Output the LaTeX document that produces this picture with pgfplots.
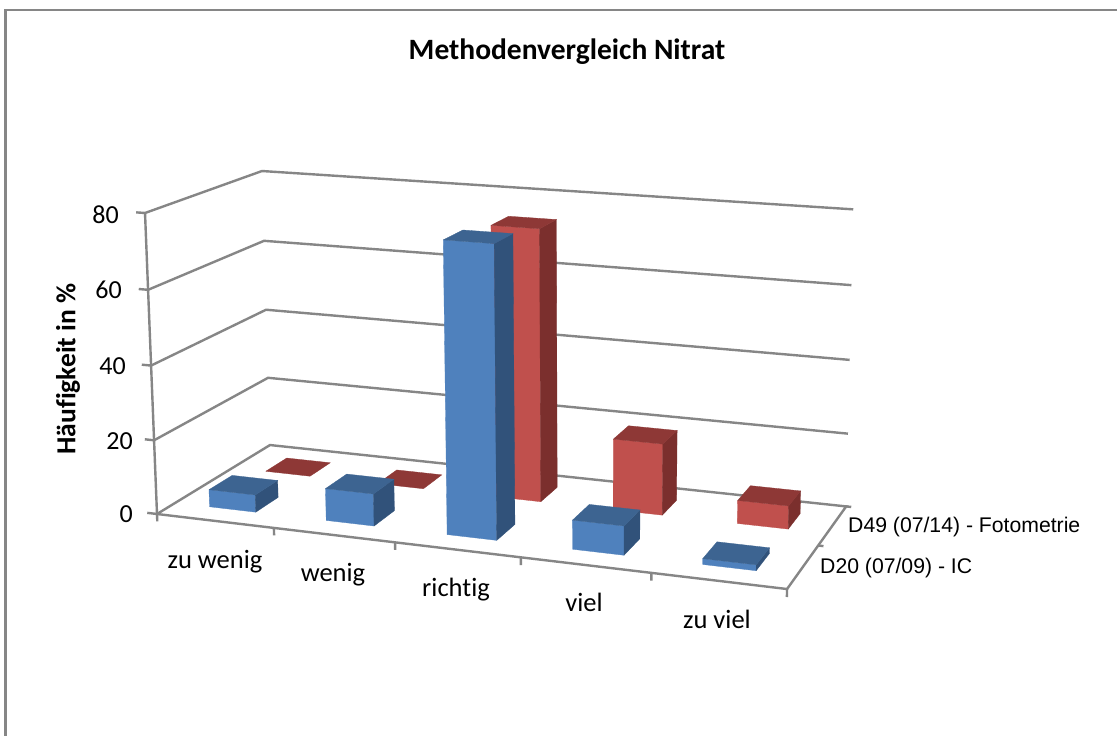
\documentclass[border=0pt]{standalone}
\usepackage{pgfplots}
\pgfplotsset{compat=1.18}
\usepackage{fontspec}
\setmainfont{Carlito}[Ligatures=NoCommon]
\newfontfamily\arialf{Liberation Sans}
\definecolor{gridc}{HTML}{868686}
\definecolor{bfront}{HTML}{4F81BD}
\definecolor{bside}{HTML}{31527A}
\definecolor{btop}{HTML}{3D6491}
\definecolor{rfront}{HTML}{C0504D}
\definecolor{rside}{HTML}{7B2F2D}
\definecolor{rtop}{HTML}{8E3836}
% one polygon or polyline: #1 style, #2 rows "s t w" (s along categories, t along series, w = value in %)
\newcommand{\poly}[2]{\addplot[#1] table[row sep=\\,
   x expr={PX(\thisrow{s},\thisrow{t},\thisrow{w})},
   y expr={PY(\thisrow{s},\thisrow{t},\thisrow{w})}] {s t w\\ #2};}
% cuboid: s0 s1 t0 t1 value front side top
\newcommand{\cuboid}[8]{%
  \poly{fill=#6,draw=#6,line width=0.3pt}{#1 #3 0\\ #2 #3 0\\ #2 #3 #5\\ #1 #3 #5\\ #1 #3 0\\}
  \poly{fill=#7,draw=#7,line width=0.3pt}{#2 #3 0\\ #2 #4 0\\ #2 #4 #5\\ #2 #3 #5\\ #2 #3 0\\}
  \poly{fill=#8,draw=#8,line width=0.3pt}{#1 #3 #5\\ #2 #3 #5\\ #2 #4 #5\\ #1 #4 #5\\ #1 #3 #5\\}
}
\newcommand{\flatbar}[5]{%
  \poly{fill=#5,draw=#5,line width=0.3pt}{#1 #3 0\\ #2 #3 0\\ #2 #4 0\\ #1 #4 0\\ #1 #3 0\\}
}
\tikzset{gl/.style={color=gridc,line width=2.4pt}}
\begin{document}
\begin{tikzpicture}
\begin{axis}[
  declare function={
    DN(\a,\b,\c)=1-0.089*\a+0.1026*\b-0.027*\c/80;
    PX(\a,\b,\c)=(560*\a+140.7*\b+157-15.9*\c/80)/DN(\a,\b,\c);
    PY(\a,\b,\c)=(22.6*\a-23.3*\b+514-306.75*\c/80)/DN(\a,\b,\c);
  },
  scale only axis, width=1117pt, height=736pt,
  xmin=0, xmax=1117, ymin=0, ymax=736, y dir=reverse,
  axis lines=none, clip=true,
]
\path[fill=white] (axis cs:0,0) rectangle (axis cs:1117,736);
% frame
\addplot[gl] coordinates {(5.5,736) (5.5,10) (1117,10)};
% back and side grid lines
\poly{gl}{0 0 20\\ 0 1 20\\ 1 1 20\\}
\poly{gl}{0 0 40\\ 0 1 40\\ 1 1 40\\}
\poly{gl}{0 0 60\\ 0 1 60\\ 1 1 60\\}
\poly{gl}{0 0 80\\ 0 1 80\\ 1 1 80\\}
% floor
\poly{gl}{0 0 0\\ 1 0 0\\ 1 1 0\\ 0 1 0\\ 0 0 0\\}
% value axis and ticks
\poly{gl}{0 0 0\\ 0 0 80\\}
\poly{gl}{-0.017 0 0\\ 0 0 0\\}
\poly{gl}{-0.016 0 20\\ 0 0 20\\}
\poly{gl}{-0.016 0 40\\ 0 0 40\\}
\poly{gl}{-0.016 0 60\\ 0 0 60\\}
\poly{gl}{-0.015 0 80\\ 0 0 80\\}
% category ticks
\poly{gl}{0 0 0\\ 0 0 -2\\}
\poly{gl}{0.2 0 0\\ 0.2 0 -2\\}
\poly{gl}{0.4 0 0\\ 0.4 0 -2\\}
\poly{gl}{0.6 0 0\\ 0.6 0 -2\\}
\poly{gl}{0.8 0 0\\ 0.8 0 -2\\}
\poly{gl}{1 0 0\\ 1 0 -2\\}
% series ticks
\poly{gl}{1 0.5 0\\ 1.008 0.5 0\\}
\poly{gl}{1 1 0\\ 1.008 1 0\\}
% D49 (07/14) - Fotometrie
\flatbar{0.06}{0.14}{0.65}{0.85}{rtop}
\flatbar{0.26}{0.34}{0.65}{0.85}{rtop}
\cuboid{0.46}{0.54}{0.65}{0.85}{74.0}{rfront}{rside}{rtop}
\cuboid{0.66}{0.74}{0.65}{0.85}{19.3}{rfront}{rside}{rtop}
\cuboid{0.86}{0.94}{0.65}{0.85}{6.2}{rfront}{rside}{rtop}
% D20 (07/09) - IC
\cuboid{0.06}{0.14}{0.15}{0.35}{4.7}{bfront}{bside}{btop}
\cuboid{0.26}{0.34}{0.15}{0.35}{8.6}{bfront}{bside}{btop}
\cuboid{0.46}{0.54}{0.15}{0.35}{76.5}{bfront}{bside}{btop}
\cuboid{0.66}{0.74}{0.15}{0.35}{7.6}{bfront}{bside}{btop}
\cuboid{0.86}{0.94}{0.15}{0.35}{1.5}{bfront}{bside}{btop}
% texts
\node[font=\fontsize{29.5}{32}\selectfont\bfseries] at (axis cs:567,52) {Methodenvergleich Nitrat};
\node[font=\fontsize{27.5}{32}\selectfont\bfseries,rotate=90] at (axis cs:68,369) {Häufigkeit in \%};
\node[font=\fontsize{26}{28}\selectfont,anchor=east,inner sep=0pt] at (axis cs:119,215) {80};
\node[font=\fontsize{26}{28}\selectfont,anchor=east,inner sep=0pt] at (axis cs:122,290) {60};
\node[font=\fontsize{26}{28}\selectfont,anchor=east,inner sep=0pt] at (axis cs:126,366) {40};
\node[font=\fontsize{26}{28}\selectfont,anchor=east,inner sep=0pt] at (axis cs:133,441) {20};
\node[font=\fontsize{26}{28}\selectfont,anchor=east,inner sep=0pt] at (axis cs:133,514) {0};
\node[font=\fontsize{26.5}{30}\selectfont] at (axis cs:215,562) {zu wenig};
\node[font=\fontsize{26.5}{30}\selectfont] at (axis cs:333,575) {wenig};
\node[font=\fontsize{26.5}{30}\selectfont] at (axis cs:456,590) {richtig};
\node[font=\fontsize{26.5}{30}\selectfont] at (axis cs:584,602) {viel};
\node[font=\fontsize{26.5}{30}\selectfont] at (axis cs:717,619) {zu viel};
\node[font=\arialf\fontsize{21.2}{24}\selectfont,anchor=west,inner sep=0pt] at (axis cs:848,527) {D49 (07/14) - Fotometrie};
\node[font=\arialf\fontsize{21.2}{24}\selectfont,anchor=west,inner sep=0pt] at (axis cs:820,568) {D20 (07/09) - IC};
\end{axis}
\end{tikzpicture}
\end{document}
